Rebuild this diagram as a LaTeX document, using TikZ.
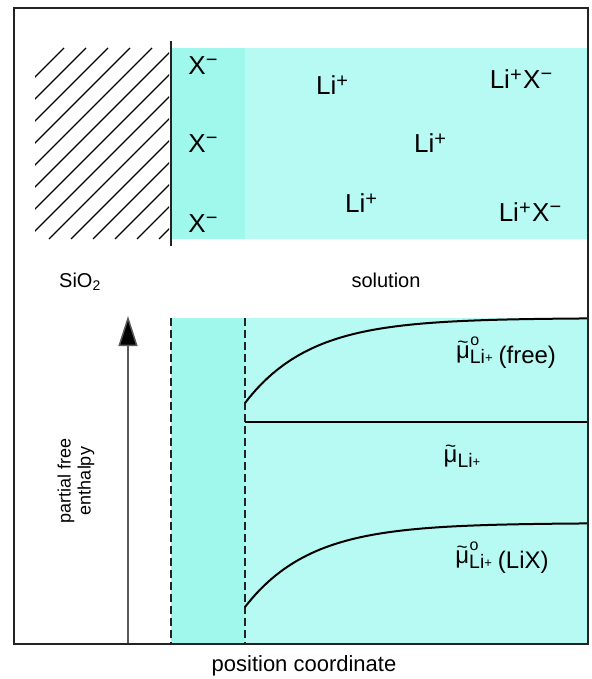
\documentclass[tikz,border=0pt]{standalone}
\usepackage{fontspec}
\setmainfont{Liberation Sans}
\usetikzlibrary{arrows.meta}
\definecolor{cyandark}{RGB}{160,247,236}
\definecolor{cyanlight}{RGB}{182,250,243}
\definecolor{framegray}{RGB}{35,35,35}
% tilde mu, raised so that its descender sits on the baseline
\newcommand{\mut}{\raisebox{5pt}{\ooalign{μ\cr\hidewidth\raisebox{10pt}{\fontsize{19}{19}\selectfont\char"7E}\hidewidth\cr}}}
\newcommand{\subLi}{{\fontsize{19.5}{20}\selectfont Li}\raisebox{1pt}{\fontsize{13}{13}\selectfont +}}
\newcommand{\muLiring}{\mut\rlap{\hspace{0.5pt}\raisebox{18pt}{\fontsize{16}{16}\selectfont o}}\subLi}
\newcommand{\supp}{\raisebox{7pt}{\fontsize{20}{20}\selectfont +}}
\newcommand{\supm}{\raisebox{8pt}{\fontsize{20}{20}\selectfont −}}
\tikzset{
  ion/.style={anchor=base, inner sep=0pt, font=\fontsize{26}{30}\selectfont},
  mutext/.style={anchor=base, inner sep=0pt, font=\fontsize{24}{28}\selectfont},
  plain/.style={anchor=base, inner sep=0pt, font=\fontsize{20}{24}\selectfont},
  curve/.style={line width=2pt, black},
  dashline/.style={line width=1.3pt, framegray, dash pattern=on 8pt off 4pt},
  hatchline/.style={line width=1.4pt, black}
}
\begin{document}
\begin{tikzpicture}[x=1pt, y=-1pt]
\useasboundingbox (0,0) rectangle (591,679);
% top band
\fill[cyandark] (171,48) rectangle (245,239);
\fill[cyanlight] (245,48) rectangle (587,239);
% hatching
\begin{scope}
  \clip (35,48) rectangle (169,239);
  \foreach \c in {112,134,...,398} {
    \draw[hatchline] (\c-48,48) -- (\c-239,239);
  }
\end{scope}
\draw[line width=1.4pt, framegray] (171,41) -- (171,246);
% bottom band
\fill[cyandark] (171,318) rectangle (245,643);
\fill[cyanlight] (245,318) rectangle (587,643);
\draw[dashline] (171,318) -- (171,643);
\draw[dashline] (245,318) -- (245,643);
% curves
\draw[curve] plot[domain=245:588, samples=90] (\x, {318+85*exp(-(\x-245)/65)});
\draw[curve] (245,422) -- (588,422);
\draw[curve] plot[domain=245:588, samples=90] (\x, {523+84*exp(-(\x-245)/65)});
% axis arrow
\coordinate (abase) at (128,643);
\coordinate (atip) at (128,316);
\draw[line width=1.5pt, gray!70!black, -{Triangle[length=30pt, width=19pt, fill=black]}] (abase) -- (atip);
% frame
\draw[line width=2pt, framegray] (14,8) rectangle (588,644);
% labels top
\node[ion] (xa) at (203,75) {X\supm};
\node[ion] (xb) at (203,153) {X\supm};
\node[ion] (xc) at (203,232) {X\supm};
\node[ion] (lia) at (332,95) {Li\supp};
\node[ion] (lib) at (430,153) {Li\supp};
\node[ion] (lic) at (361,212) {Li\supp};
\node[ion] (lxa) at (521,89) {Li\supp\kern1.5pt X\supm};
\node[ion] (lxb) at (530,221) {Li\supp\kern1.5pt X\supm};
\node[plain] (sio) at (80,287) {SiO\textsubscript{2}};
\node[plain] (sol) at (386,287) {solution};
% labels bottom
\node[mutext] (mufree) at (506,363) {\muLiring\hspace{6pt}(free)};
\node[mutext] (mu) at (462,467) {\mut\subLi};
\node[mutext] (mulix) at (502,568) {\muLiring\hspace{6pt}(LiX)};
\node[rotate=90, align=center, inner sep=0pt, font=\fontsize{18}{20}\selectfont] (enth) at (76,481) {partial free\\enthalpy};
\node[anchor=base, inner sep=0pt, font=\fontsize{22}{26}\selectfont] (pos) at (304,671) {position coordinate};
\end{tikzpicture}
\end{document}
